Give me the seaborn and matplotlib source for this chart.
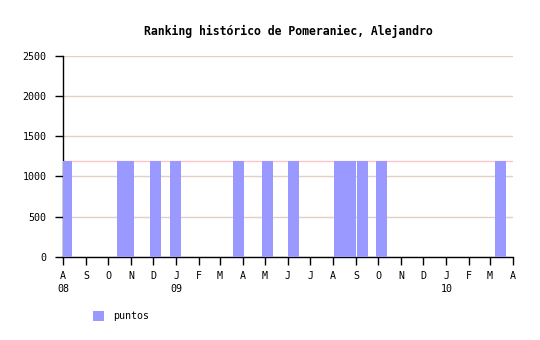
import matplotlib
matplotlib.use("Agg")
import matplotlib.pyplot as plt
import matplotlib.dates as mdates
import matplotlib.transforms as mtransforms
import seaborn as sns
import pandas as pd

# ---- data ----
fechas = ["2008-08-06", "2008-10-21", "2008-10-28", "2008-12-04", "2008-12-31",
          "2009-03-26", "2009-05-04", "2009-06-08", "2009-08-10", "2009-08-17",
          "2009-08-24", "2009-09-10", "2009-10-05", "2010-03-15"]
puntos = [1190, 1190, 1190, 1190, 1190, 1190, 1190, 1190, 1190, 1190,
          1190, 1190, 1190, 1190]
nivel_ref = 1190
meses = ["A", "S", "O", "N", "D", "J", "F", "M", "A", "M", "J",
         "J", "A", "S", "O", "N", "D", "J", "F", "M", "A"]
anios = [("2008-08-01", "08"), ("2009-01-01", "09"), ("2010-01-01", "10")]
titulo = "Ranking histórico de Pomeraniec, Alejandro"

sns.set_style("white")
plt.rcParams["font.family"] = ["DejaVu Sans Mono", "DejaVu Sans"]
plt.rcParams["text.color"] = "black"
plt.rcParams["xtick.color"] = "black"
plt.rcParams["ytick.color"] = "black"
plt.rcParams["axes.labelcolor"] = "black"

df = pd.DataFrame({"fecha": pd.to_datetime(fechas), "puntos": puntos})

fig = plt.figure(figsize=(5.4, 3.4), dpi=100)
ax = fig.add_axes([63 / 540, 1 - 256.7 / 340, 450 / 540, 200.7 / 340])

x0 = pd.Timestamp("2008-08-01")
x1 = pd.Timestamp("2010-04-01")

# grid and reference line
ax.set_ylim(0, 2500)
ax.set_yticks([0, 500, 1000, 1500, 2000, 2500])
ax.yaxis.grid(True, color="#e4cfc4", linewidth=1, zorder=0)
ax.set_axisbelow(True)
ax.axhline(nivel_ref, color="#ffc4cc", linewidth=1, zorder=1)

ax.bar(mdates.date2num(df["fecha"]), df["puntos"], width=15,
       color="#9999ff", label="puntos", zorder=3, align="center", linewidth=0)

ax.set_xlim(mdates.date2num(x0), mdates.date2num(x1))
ticks = pd.date_range(x0, x1, freq="MS")
ax.set_xticks(mdates.date2num(ticks))
ax.set_xticklabels(meses)

sns.despine(ax=ax, top=True, right=True)
for s in ["left", "bottom"]:
    ax.spines[s].set_color("black")
    ax.spines[s].set_linewidth(1)
    ax.spines[s].set_zorder(2)

ax.tick_params(axis="y", direction="out", length=6, width=1, color="black",
               labelcolor="black", labelsize=7.2, pad=6, left=True)
ax.tick_params(axis="x", direction="out", length=6, width=1, color="black",
               labelcolor="black", labelsize=7.2, pad=4, bottom=True)
ax.set_xlabel("")
ax.set_ylabel("")

trans = mtransforms.blended_transform_factory(ax.transData, fig.transFigure)
for f, lab in anios:
    ax.text(mdates.date2num(pd.Timestamp(f)), 1 - 289.5 / 340, lab,
            transform=trans, ha="center", va="center", fontsize=7.2,
            color="black")

fig.text(288 / 540, 1 - 31 / 340, titulo, ha="center", va="center",
         fontsize=8.3, fontweight="bold", color="black")

leg = fig.legend(loc="center left", bbox_to_anchor=(93 / 540, 1 - 316 / 340),
                 frameon=False, borderpad=0, borderaxespad=0, fontsize=7.2,
                 handlelength=1.05, handleheight=1.1, handletextpad=1.0)
for t in leg.get_texts():
    t.set_color("black")

fig.savefig("out.png", dpi=100)
